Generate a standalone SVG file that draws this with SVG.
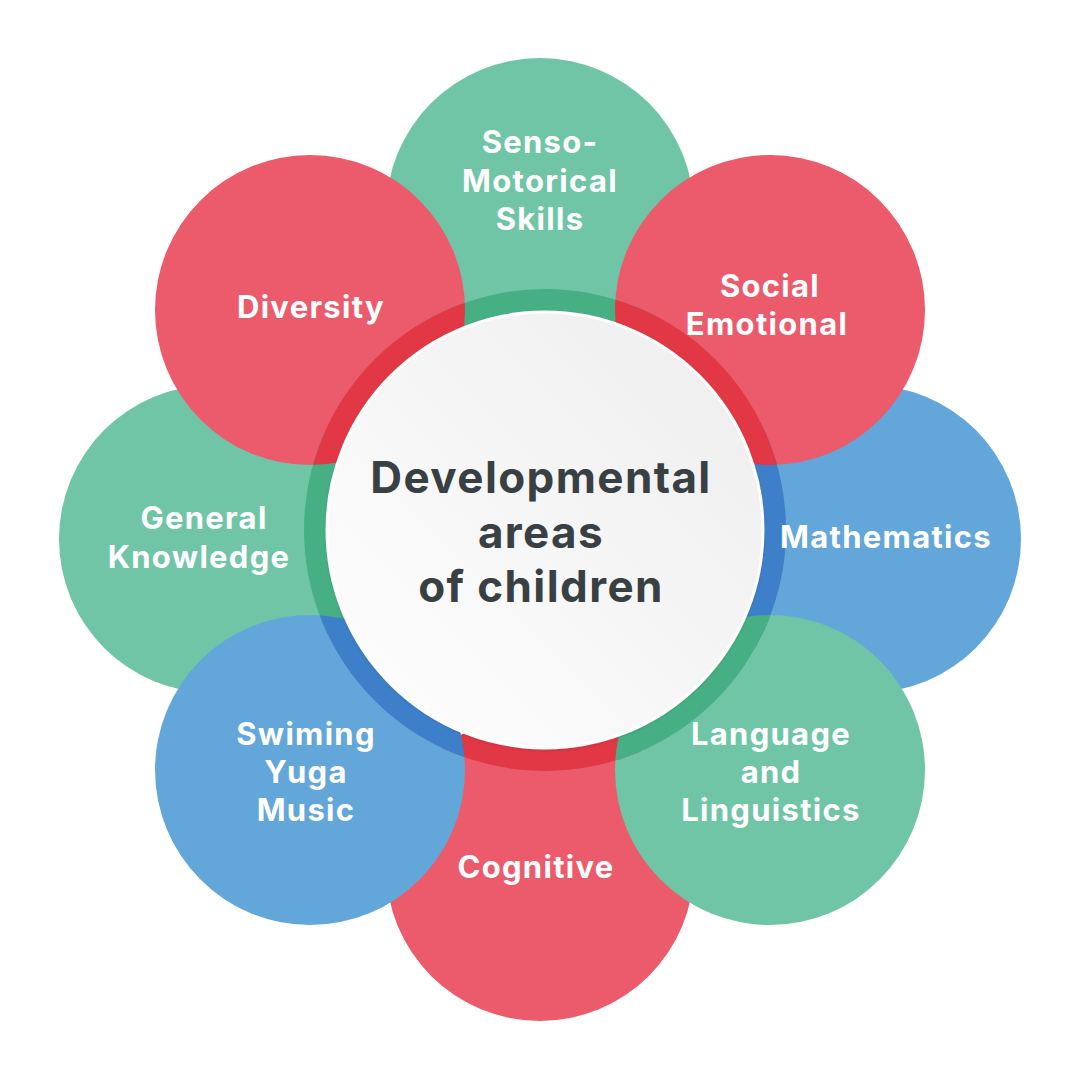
<svg xmlns="http://www.w3.org/2000/svg" width="1080" height="1080" viewBox="0 0 1080 1080">
<defs>
<style>
.red{fill:#EB5B6B}.green{fill:#70C5A7}.blue{fill:#63A6D9}
.dred{fill:#E23744}.dgreen{fill:#46B084}.dblue{fill:#3D80C9}
.lbl{font-family:Inter,Roboto,"Liberation Sans",sans-serif;font-weight:700;font-size:31px;letter-spacing:1.3px;fill:#FFFFFF;text-anchor:middle}
.ctr{font-family:Inter,Roboto,"Liberation Sans",sans-serif;font-weight:700;font-size:44px;letter-spacing:1.4px;fill:#394044;text-anchor:middle}
</style>
<clipPath id="ringClip"><circle cx="545" cy="530" r="241"/></clipPath>
<linearGradient id="cg" x1="1" y1="0" x2="0" y2="1">
<stop offset="0" stop-color="#EDEDED"/>
<stop offset="1" stop-color="#FFFFFF"/>
</linearGradient>
<filter id="sh" x="-10%" y="-10%" width="120%" height="120%">
<feDropShadow dx="0" dy="1" stdDeviation="1.5" flood-color="#000" flood-opacity="0.12"/>
</filter>
</defs>
<rect width="1080" height="1080" fill="#FFFFFF"/>

<g id="bubbles">
<circle id="c-senso" class="green" cx="540" cy="212" r="154"/>
<circle id="c-math" class="blue" cx="867" cy="539" r="154"/>
<circle id="c-cog" class="red" cx="540" cy="867" r="154"/>
<circle id="c-gen" class="green" cx="213" cy="539" r="154"/>
<circle id="c-div" class="red" cx="310" cy="310" r="155"/>
<circle id="c-soc" class="red" cx="770" cy="310" r="155"/>
<circle id="c-lang" class="green" cx="770" cy="770" r="155"/>
<circle id="c-swim" class="blue" cx="310" cy="770" r="155"/>
</g>

<g id="ring" clip-path="url(#ringClip)">
<circle class="dgreen" cx="540" cy="212" r="154"/>
<circle class="dblue" cx="867" cy="539" r="154"/>
<circle class="dred" cx="540" cy="867" r="154"/>
<circle class="dgreen" cx="213" cy="539" r="154"/>
<circle class="dred" cx="310" cy="310" r="155"/>
<circle class="dred" cx="770" cy="310" r="155"/>
<circle class="dgreen" cx="770" cy="770" r="155"/>
<circle class="dblue" cx="310" cy="770" r="155"/>
</g>

<g id="center">
<circle cx="545" cy="530" r="218" fill="url(#cg)" stroke="#FFFFFF" stroke-width="3" filter="url(#sh)"/>
<text class="ctr" x="541" y="493">Developmental</text>
<text class="ctr" x="541" y="548">areas</text>
<text class="ctr" x="541" y="602">of children</text>
</g>

<g id="n-senso"><text class="lbl" x="540" y="153">Senso-</text><text class="lbl" x="540" y="192">Motorical</text><text class="lbl" x="540" y="230">Skills</text></g>
<g id="n-social"><text class="lbl" x="770" y="297">Social</text><text class="lbl" x="767" y="335">Emotional</text></g>
<g id="n-math"><text class="lbl" x="886" y="548">Mathematics</text></g>
<g id="n-lang"><text class="lbl" x="771" y="745">Language</text><text class="lbl" x="771" y="783">and</text><text class="lbl" x="771" y="821">Linguistics</text></g>
<g id="n-cog"><text class="lbl" x="536" y="878">Cognitive</text></g>
<g id="n-swim"><text class="lbl" x="306" y="745">Swiming</text><text class="lbl" x="306" y="783">Yuga</text><text class="lbl" x="306" y="821">Music</text></g>
<g id="n-gen"><text class="lbl" x="204" y="529">General</text><text class="lbl" x="199" y="568">Knowledge</text></g>
<g id="n-div"><text class="lbl" x="311" y="318">Diversity</text></g>
<g id="connectors"></g>
</svg>
